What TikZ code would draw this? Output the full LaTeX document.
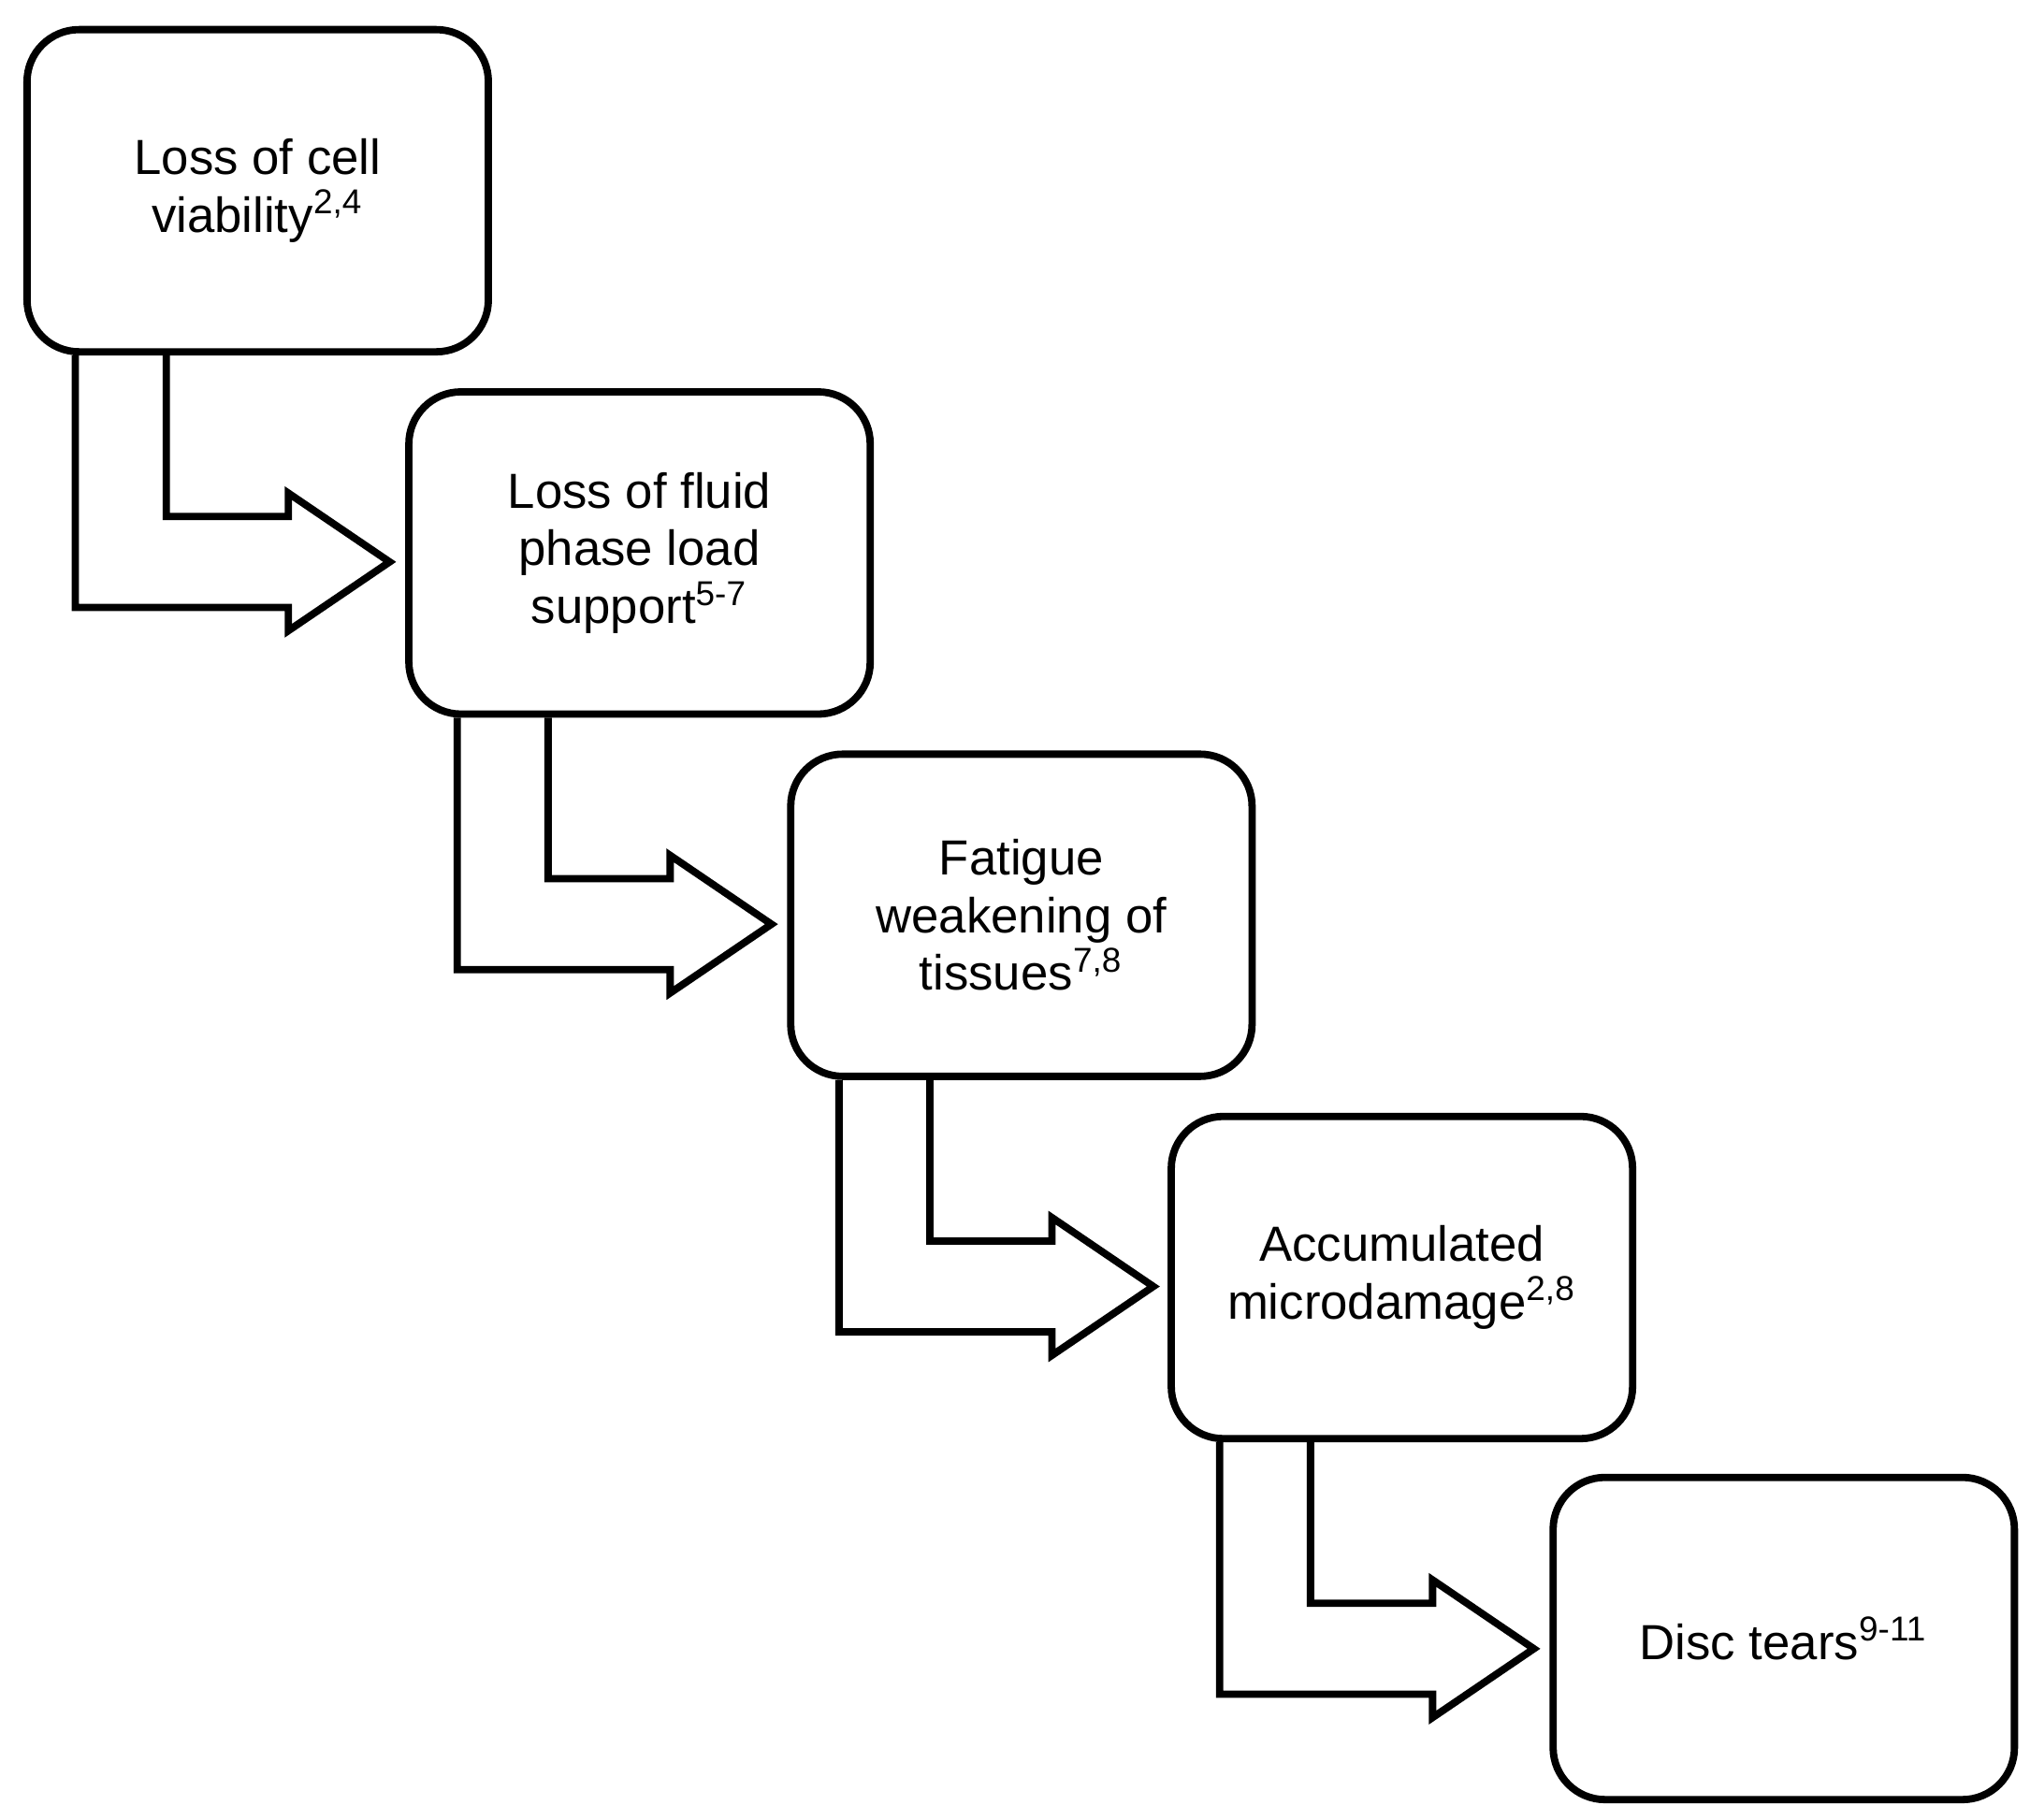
\documentclass[tikz,border=0pt]{standalone}
\usepackage{fontspec}
\setmainfont{Liberation Sans}
\usetikzlibrary{calc}
\begin{document}
\begin{tikzpicture}[x=0.01cm,y=-0.01cm,
  box/.style={draw,line width=1.6pt,rounded corners=0.4cm,minimum width=3.55cm,minimum height=2.48cm,anchor=north west,align=center,font=\fontsize{10.8}{12.6}\selectfont},
  arr/.style={draw,line width=1.6pt,line join=miter}]
\useasboundingbox (0,0) rectangle (1563,1401);
\node[box] (b1) at (18,20) {Loss of cell\\viability\textsuperscript{2,4}};
\node[box] (b2) at (312,299) {Loss of fluid\\phase load\\support\textsuperscript{5-7}};
\node[box] (b3) at (606,578) {Fatigue\\weakening of\\tissues\textsuperscript{7,8}};
\node[box] (b4) at (899,857) {Accumulated\\microdamage\textsuperscript{2,8}};
\node[box] (b5) at (1193,1135) {Disc tears\textsuperscript{9-11}};
\foreach \a/\b in {b1/b2,b2/b3,b3/b4,b4/b5}{
  \coordinate (s) at (\a.south west);
  \draw[arr] ($(s)+(40,0)$) -- ($(s)+(40,194)$) -- ($(s)+(204,194)$) -- ($(s)+(204,212)$)
    -- ($(s)+(282,159)$) -- ($(s)+(204,106)$) -- ($(s)+(204,124)$) -- ($(s)+(110,124)$)
    -- ($(s)+(110,0)$);
}
\end{tikzpicture}
\end{document}
